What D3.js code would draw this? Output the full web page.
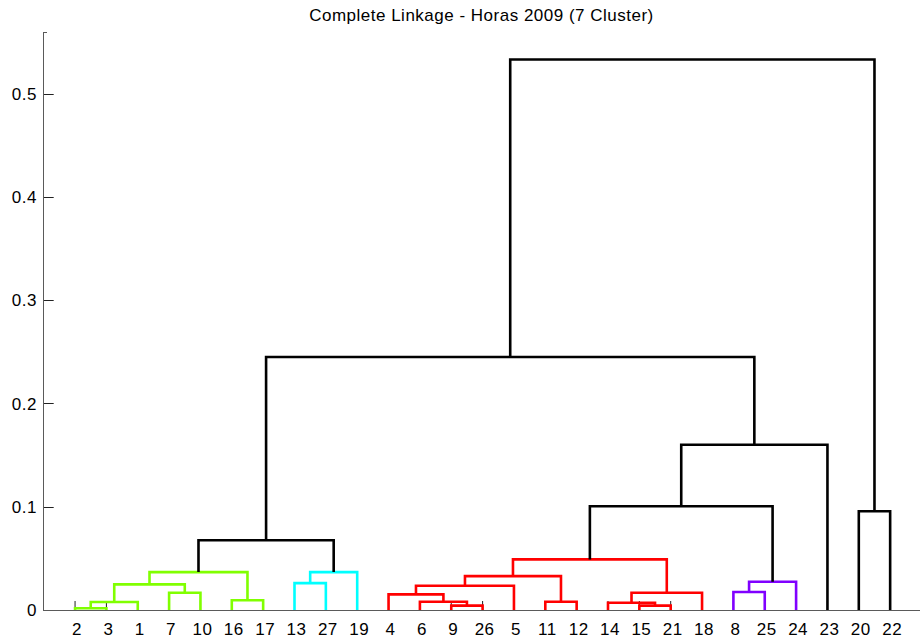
<!DOCTYPE html>
<html>
<head>
<meta charset="utf-8">
<script src="https://cdn.jsdelivr.net/npm/d3@7"></script>
<style>
  body { margin: 0; background: #fff; }
  text { font-family: "Liberation Sans", Arial, Helvetica, sans-serif; font-size: 17px; fill: #000; letter-spacing: 0.5px; }
</style>
</head>
<body>
<div id="chart-container"></div>
<script>
const chartTitle = "Complete Linkage - Horas 2009 (7 Cluster)";
const leafCount = 27;

// linkage rows like MATLAB's Z: [left, right, height]; node ids > 27 point to earlier rows (28 = row 1)
const linkLeft   = [9, 15, 2, 14, 30, 6, 11, 16, 4, 7, 31, 8, 36, 32, 13, 39, 40, 41, 42, 44, 45, 20, 47, 50, 48, 52];
const linkRight  = [26, 21, 3, 29, 1, 28, 12, 17, 33, 10, 18, 25, 5, 37, 27, 24, 34, 35, 19, 38, 46, 22, 43, 23, 51, 49];
const linkHeight = [0.0042, 0.0042, 0.0017, 0.0070, 0.0077, 0.0080, 0.0080, 0.0094, 0.0151, 0.0167,
                    0.0167, 0.0174, 0.0235, 0.0248, 0.0260, 0.0273, 0.0328, 0.0367, 0.0367, 0.0490,
                    0.0676, 0.0956, 0.1004, 0.1600, 0.2450, 0.5330];

const colorThreshold = 0.06;
const clusterColors = ["#80ff00", "#00ffff", "#ff0000", "#8000ff"];
const yTicks = [0, 0.1, 0.2, 0.3, 0.4, 0.5];

const W = 920, H = 641;
const plot = {left: 43.7, right: 921.5, top: 32, bottom: 610};

function setupChart() {
    const svg = d3.select("#chart-container").append("svg")
        .attr("width", W).attr("height", H);
    svg.append("rect").attr("width", W).attr("height", H).attr("fill", "#fff");
    return svg;
}

// build tree nodes from the linkage rows
function buildTree() {
    const nodes = {};
    for (let i = 1; i <= leafCount; i++) nodes[i] = {id: i, height: 0, leaf: true};
    linkLeft.forEach((l, i) => {
        nodes[leafCount + 1 + i] = {id: leafCount + 1 + i, left: nodes[l], right: nodes[linkRight[i]], height: linkHeight[i]};
    });
    return nodes[leafCount + linkLeft.length];
}

function leafOrder(node, out) {
    if (node.leaf) { out.push(node.id); return out; }
    leafOrder(node.left, out);
    leafOrder(node.right, out);
    return out;
}

function assignColors(node, state, color) {
    // first node under the threshold starts a new colour group
    if (!color && !node.leaf && node.height < colorThreshold) {
        color = clusterColors[state.next++ % clusterColors.length];
    }
    node.color = color || "#000";
    if (!node.leaf) {
        assignColors(node.left, state, color);
        assignColors(node.right, state, color);
    }
}

function drawAxes(svg, xScale, yScale, order) {
    const g = svg.append("g");
    // x ticks at leaves (inward)
    g.selectAll(".xtick").data(order).enter().append("line")
        .attr("x1", (d, i) => xScale(i + 1)).attr("x2", (d, i) => xScale(i + 1))
        .attr("y1", plot.bottom).attr("y2", plot.bottom - 9)
        .attr("stroke", "#222").attr("stroke-width", 1);
    g.selectAll(".xlab").data(order).enter().append("text")
        .attr("x", (d, i) => xScale(i + 1) + 2).attr("y", 635)
        .attr("text-anchor", "middle").text(d => d);

    g.selectAll(".ytick").data(yTicks).enter().append("line")
        .attr("x1", plot.left).attr("x2", plot.left + 10)
        .attr("y1", d => Math.round(yScale(d)) + 0.5).attr("y2", d => Math.round(yScale(d)) + 0.5)
        .attr("stroke", "#222").attr("stroke-width", 1);
    g.selectAll(".ylab").data(yTicks).enter().append("text")
        .attr("x", 37).attr("y", d => yScale(d)).attr("dy", "0.36em")
        .attr("text-anchor", "end").text(d => d3.format("")(d));

    g.append("line").attr("x1", 43.5).attr("x2", 43.5)
        .attr("y1", plot.top).attr("y2", plot.bottom + 0.5)
        .attr("stroke", "#5a5a5a").attr("stroke-width", 1);
    g.append("line").attr("x1", 43.5).attr("x2", 47)
        .attr("y1", plot.top + 0.5).attr("y2", plot.top + 0.5)
        .attr("stroke", "#5a5a5a").attr("stroke-width", 1);
    g.append("line").attr("x1", 43).attr("x2", W)
        .attr("y1", plot.bottom + 0.5).attr("y2", plot.bottom + 0.5)
        .attr("stroke", "#5a5a5a").attr("stroke-width", 1);

    svg.append("text").attr("x", 481.5).attr("y", 21)
        .attr("text-anchor", "middle").text(chartTitle);
}

function drawDendrogram(svg, root, xScale, yScale, order) {
    const pos = {};
    order.forEach((id, i) => pos[id] = i + 1);
    const links = [];
    (function walk(n) {
        if (n.leaf) return pos[n.id];
        const xl = walk(n.left), xr = walk(n.right);
        links.push({xl, xr, hl: n.left.height, hr: n.right.height, h: n.height,
                    color: n.left.color === n.right.color && n.color !== "#000" ? n.color : "#000"});
        return (xl + xr) / 2;
    })(root);

    const line = d3.line().x(d => xScale(d[0])).y(d => yScale(d[1]));
    svg.append("g").selectAll("path").data(links).enter().append("path")
        .attr("d", d => line([[d.xl, d.hl], [d.xl, d.h], [d.xr, d.h], [d.xr, d.hr]]))
        .attr("fill", "none")
        .attr("stroke", d => d.color)
        .attr("stroke-width", 2.6)
        .attr("stroke-linejoin", "miter");
}

document.addEventListener("DOMContentLoaded", () => {
    const svg = setupChart();
    const root = buildTree();
    const order = leafOrder(root, []);
    assignColors(root, {next: 0}, null);
    const xScale = d3.scaleLinear().domain([0, leafCount + 1]).range([plot.left, plot.right]);
    const yScale = d3.scaleLinear().domain([0, root.height * 1.05]).range([plot.bottom, plot.top]);
    drawAxes(svg, xScale, yScale, order);
    drawDendrogram(svg, root, xScale, yScale, order);
});
</script>
</body>
</html>
